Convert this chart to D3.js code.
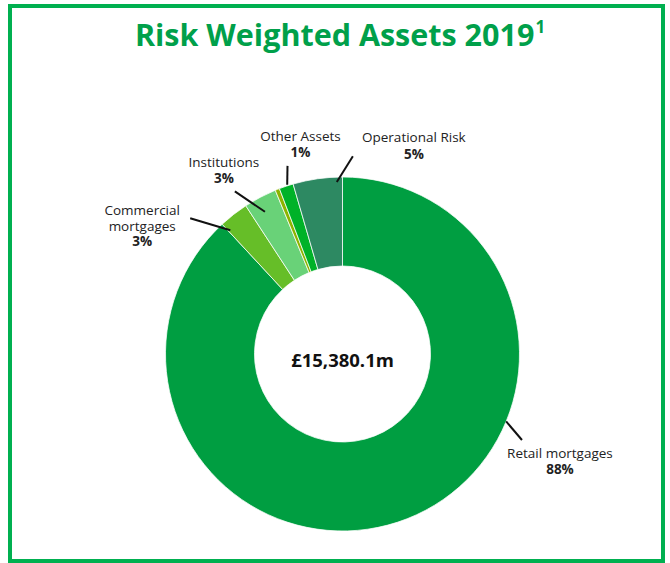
<!DOCTYPE html>
<html>
<head>
<meta charset="utf-8">
<script src="https://cdn.jsdelivr.net/npm/d3@7"></script>
<style>
  html, body { margin: 0; padding: 0; background: #fff; }
  svg { display: block; }
</style>
</head>
<body>
<div id="chart"></div>
<script>
// ---- Data ----
const categories = ["Retail mortgages", "Commercial mortgages", "Institutions", "Other (minor)", "Other Assets", "Operational Risk"];
const shares = [88.1, 2.7, 3.0, 0.4, 1.3, 4.5];
const percentLabels = ["88%", "3%", "3%", "", "1%", "5%"];
const labelLines = [["Retail mortgages"], ["Commercial", "mortgages"], ["Institutions"], [], ["Other Assets"], ["Operational Risk"]];
const colors = ["#009e41", "#66be28", "#69d278", "#8cb400", "#00b228", "#2d8962"];
const titleText = "Risk Weighted Assets 2019";
const titleNote = "1";
const totalText = "£15,380.1m";

// ---- Layout ----
const W = 670, H = 563;
const cx = 342.5, cy = 354, outerR = 177, innerR = 88;
// leader placement (polar, degrees clockwise from 12 o'clock, radius) and first-line label offset from leader end
const placement = [
  { a0: 112.4, r0: 177, a1: 115.6, r1: 199, dx: 38, dy: 18 },
  { a0: 317.8, r0: 167, a1: 311.7, r1: 204, dx: -48, dy: -3, lh: 15.5 },
  { a0: 331.4, r0: 162, a1: 326.5, r1: 195, dx: -11, dy: -24 },
  null,
  { a0: 341.9, r0: 178, a1: 343.7, r1: 196, dx: 13, dy: -25 },
  { a0: 358.1, r0: 172, a1: 3.0,  r1: 198, dx: 61, dy: -14, lh: 17 }
];

const svg = d3.select("#chart").append("svg").attr("width", W).attr("height", H);

// frame
svg.append("rect").attr("x", 10).attr("y", 6).attr("width", 653).attr("height", 555)
  .attr("fill", "none").attr("stroke", "#00b050").attr("stroke-width", 4);

// title
const title = svg.append("text").attr("x", 340).attr("y", 46).attr("text-anchor", "middle")
  .attr("font-family", "'Open Sans', sans-serif").attr("font-weight", "bold")
  .attr("font-size", 30.5).attr("fill", "#00a04a");
title.append("tspan").text(titleText);
title.append("tspan").attr("font-size", 17).attr("dy", -13).attr("dx", 1).text(titleNote);

// pie
const pie = d3.pie().sort(null).value(d => d);
const arcs = pie(shares);
const arc = d3.arc().innerRadius(innerR).outerRadius(outerR);
const g = svg.append("g").attr("transform", `translate(${cx},${cy})`);
g.selectAll("path").data(arcs).enter().append("path")
  .attr("d", arc).attr("fill", (d, i) => colors[i])
  .attr("stroke", "rgba(255,255,255,0.75)").attr("stroke-width", 1);

// leaders & labels
const rad = a => a * Math.PI / 180;
const pt = (a, r) => [Math.sin(rad(a)) * r, -Math.cos(rad(a)) * r];
placement.forEach((p, i) => {
  if (!p) return;
  const s = pt(p.a0, p.r0), e = pt(p.a1, p.r1);
  g.append("line").attr("x1", s[0]).attr("y1", s[1]).attr("x2", e[0]).attr("y2", e[1])
    .attr("stroke", "#111").attr("stroke-width", 2);
  const lineH = p.lh || 16;
  const lines = labelLines[i].concat([percentLabels[i]]);
  const tx = e[0] + p.dx;
  const first = e[1] + p.dy;
  const t = g.append("text").attr("text-anchor", "middle")
    .attr("font-family", "'Open Sans', sans-serif").attr("font-size", 13.5).attr("fill", "#222");
  lines.forEach((ln, j) => {
    t.append("tspan").attr("x", tx).attr("y", first + j * lineH)
      .attr("font-weight", j === lines.length - 1 ? "bold" : "normal").text(ln);
  });
});

// center total
g.append("text").attr("x", 0).attr("y", 13).attr("text-anchor", "middle")
  .attr("font-family", "'Open Sans', sans-serif").attr("font-weight", "bold")
  .attr("font-size", 18.5).attr("fill", "#111").text(totalText);
</script>
</body>
</html>
